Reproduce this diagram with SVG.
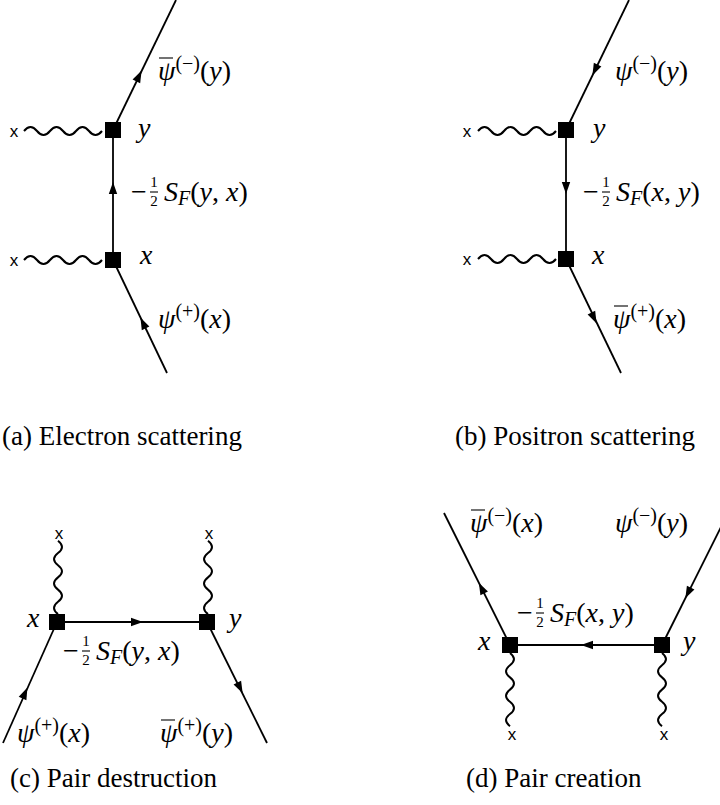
<svg xmlns="http://www.w3.org/2000/svg" xmlns:xlink="http://www.w3.org/1999/xlink" width="720" height="805" viewBox="0 0 720 805">
<style>
.ln{stroke:#000;stroke-width:1.8;fill:none}
.wv{stroke:#000;stroke-width:2;fill:none}
.bar{stroke:#000;stroke-width:1.1}
.t{font-size:28px;fill:#000}
.cap{font-size:27px;fill:#000}
.sup{font-size:20px}
.fr{font-size:15px;text-anchor:middle;fill:#000}
.mk{font-size:17px;text-anchor:middle;fill:#000}
</style>
<defs>
<path id="arr" d="M6,0 L-6,-4.2 L-6,4.2 Z" fill="#000"/>
<rect id="vx" x="-8" y="-8" width="16" height="16" fill="#000"/>
</defs>
<rect width="720" height="805" fill="#fff"/>
<g id="connectors">
<path class="ln" d="M113,130 L176,0"/>
<path class="ln" d="M113,130 V260"/>
<path class="ln" d="M113,260 L167,373"/>
<path class="wv" d="M24,131 q6.5,-8 13,0 t13,0 t13,0 t13,0 t13,0 t13,0"/>
<path class="wv" d="M24,260 q6.5,-8 13,0 t13,0 t13,0 t13,0 t13,0 t13,0"/>
<use xlink:href="#arr" transform="translate(139,76) rotate(-64.1)"/>
<use xlink:href="#arr" transform="translate(113,188) rotate(-90)"/>
<use xlink:href="#arr" transform="translate(143,323) rotate(-115.5)"/>
<path class="ln" d="M566,130 L629,0"/>
<path class="ln" d="M566,130 V259"/>
<path class="ln" d="M566,259 L621,373"/>
<path class="wv" d="M478,131 q6.5,-8 13,0 t13,0 t13,0 t13,0 t13,0 t13,0"/>
<path class="wv" d="M478,259 q6.5,-8 13,0 t13,0 t13,0 t13,0 t13,0 t13,0"/>
<use xlink:href="#arr" transform="translate(595,70) rotate(115.9)"/>
<use xlink:href="#arr" transform="translate(566,188) rotate(90)"/>
<use xlink:href="#arr" transform="translate(594,318) rotate(64)"/>
<path class="ln" d="M57,622 H207"/>
<path class="ln" d="M57,622 L3,743"/>
<path class="ln" d="M207,622 L267,743"/>
<path class="wv" d="M58,614 q-8,-6.1 0,-12.2 t0,-12.2 t0,-12.2 t0,-12.2 t0,-12.2 t0,-12.2"/>
<path class="wv" d="M208,614 q-8,-6.1 0,-12.2 t0,-12.2 t0,-12.2 t0,-12.2 t0,-12.2 t0,-12.2"/>
<use xlink:href="#arr" transform="translate(137,622)"/>
<use xlink:href="#arr" transform="translate(25,693) rotate(-65.9)"/>
<use xlink:href="#arr" transform="translate(240,688) rotate(63.6)"/>
<path class="ln" d="M510,645 H662"/>
<path class="ln" d="M510,645 L444,513"/>
<path class="ln" d="M662,645 L728,513"/>
<path class="wv" d="M510,653 q8,6.1 0,12.2 t0,12.2 t0,12.2 t0,12.2 t0,12.2 t0,12.2"/>
<path class="wv" d="M662,653 q8,6.1 0,12.2 t0,12.2 t0,12.2 t0,12.2 t0,12.2 t0,12.2"/>
<use xlink:href="#arr" transform="translate(587,645) rotate(180)"/>
<use xlink:href="#arr" transform="translate(481.5,588) rotate(-116.6)"/>
<use xlink:href="#arr" transform="translate(688,593) rotate(116.6)"/>
</g>

<g id="markers">
<g id="a-ext-y"><text class="mk" font-family="Liberation Sans" x="14" y="137">x</text></g>
<g id="a-ext-x"><text class="mk" font-family="Liberation Sans" x="14" y="266">x</text></g>
<g id="b-ext-y"><text class="mk" font-family="Liberation Sans" x="467" y="137">x</text></g>
<g id="b-ext-x"><text class="mk" font-family="Liberation Sans" x="467" y="265">x</text></g>
<g id="c-ext-x"><text class="mk" font-family="Liberation Sans" x="59" y="539">x</text></g>
<g id="c-ext-y"><text class="mk" font-family="Liberation Sans" x="209" y="539">x</text></g>
<g id="d-ext-x"><text class="mk" font-family="Liberation Sans" x="512" y="740">x</text></g>
<g id="d-ext-y"><text class="mk" font-family="Liberation Sans" x="664" y="740">x</text></g>
</g>

<g id="nodes">
<g id="a-vertex-y"><use xlink:href="#vx" x="113" y="130"/><text class="t" font-family="serif" font-style="italic" x="138" y="137">y</text></g>
<g id="a-vertex-x"><use xlink:href="#vx" x="113" y="260"/><text class="t" font-family="serif" font-style="italic" x="140" y="264">x</text></g>
<g id="a-out"><line class="bar" x1="159" y1="58" x2="173" y2="58"/><text class="t" font-family="Liberation Serif" x="158" y="80"><tspan font-family="serif" font-style="italic">ψ</tspan><tspan class="sup" font-family="Liberation Serif" dy="-10">(−)</tspan><tspan font-family="Liberation Serif" dy="10">(</tspan><tspan font-family="serif" font-style="italic">y</tspan><tspan font-family="Liberation Serif">)</tspan></text></g>
<g id="a-prop"><text class="t" font-family="Liberation Serif" x="131" y="201">−</text><text class="fr" font-family="Liberation Serif" x="154" y="187">1</text><line class="bar" x1="150" y1="192" x2="158" y2="192"/><text class="fr" font-family="Liberation Serif" x="154" y="206">2</text><text class="t" font-family="Liberation Serif" x="164" y="201"><tspan font-family="serif" font-style="italic">S</tspan><tspan class="sup" font-family="serif" font-style="italic" dy="4">F</tspan><tspan font-family="Liberation Serif" dy="-4">(</tspan><tspan font-family="serif" font-style="italic">y</tspan><tspan font-family="Liberation Serif">, </tspan><tspan font-family="serif" font-style="italic">x</tspan><tspan font-family="Liberation Serif">)</tspan></text></g>
<g id="a-in"><text class="t" font-family="Liberation Serif" x="158" y="328"><tspan font-family="serif" font-style="italic">ψ</tspan><tspan class="sup" font-family="Liberation Serif" dy="-10">(+)</tspan><tspan font-family="Liberation Serif" dy="10">(</tspan><tspan font-family="serif" font-style="italic">x</tspan><tspan font-family="Liberation Serif">)</tspan></text></g>
<g id="a-caption"><text class="cap" font-family="Liberation Serif" x="2" y="445">(a) Electron scattering</text></g>

<g id="b-vertex-y"><use xlink:href="#vx" x="566" y="130"/><text class="t" font-family="serif" font-style="italic" x="593" y="137">y</text></g>
<g id="b-vertex-x"><use xlink:href="#vx" x="566" y="259"/><text class="t" font-family="serif" font-style="italic" x="592" y="264">x</text></g>
<g id="b-in"><text class="t" font-family="Liberation Serif" x="615" y="80"><tspan font-family="serif" font-style="italic">ψ</tspan><tspan class="sup" font-family="Liberation Serif" dy="-10">(−)</tspan><tspan font-family="Liberation Serif" dy="10">(</tspan><tspan font-family="serif" font-style="italic">y</tspan><tspan font-family="Liberation Serif">)</tspan></text></g>
<g id="b-prop"><text class="t" font-family="Liberation Serif" x="583" y="201">−</text><text class="fr" font-family="Liberation Serif" x="606" y="187">1</text><line class="bar" x1="602" y1="192" x2="610" y2="192"/><text class="fr" font-family="Liberation Serif" x="606" y="206">2</text><text class="t" font-family="Liberation Serif" x="616" y="201"><tspan font-family="serif" font-style="italic">S</tspan><tspan class="sup" font-family="serif" font-style="italic" dy="4">F</tspan><tspan font-family="Liberation Serif" dy="-4">(</tspan><tspan font-family="serif" font-style="italic">x</tspan><tspan font-family="Liberation Serif">, </tspan><tspan font-family="serif" font-style="italic">y</tspan><tspan font-family="Liberation Serif">)</tspan></text></g>
<g id="b-out"><line class="bar" x1="614" y1="306" x2="628" y2="306"/><text class="t" font-family="Liberation Serif" x="613" y="328"><tspan font-family="serif" font-style="italic">ψ</tspan><tspan class="sup" font-family="Liberation Serif" dy="-10">(+)</tspan><tspan font-family="Liberation Serif" dy="10">(</tspan><tspan font-family="serif" font-style="italic">x</tspan><tspan font-family="Liberation Serif">)</tspan></text></g>
<g id="b-caption"><text class="cap" font-family="Liberation Serif" x="455" y="445">(b) Positron scattering</text></g>

<g id="c-vertex-x"><use xlink:href="#vx" x="57" y="622"/><text class="t" font-family="serif" font-style="italic" x="27" y="627">x</text></g>
<g id="c-vertex-y"><use xlink:href="#vx" x="207" y="622"/><text class="t" font-family="serif" font-style="italic" x="229" y="627">y</text></g>
<g id="c-prop"><text class="t" font-family="Liberation Serif" x="63" y="660">−</text><text class="fr" font-family="Liberation Serif" x="86" y="646">1</text><line class="bar" x1="82" y1="651" x2="90" y2="651"/><text class="fr" font-family="Liberation Serif" x="86" y="665">2</text><text class="t" font-family="Liberation Serif" x="96" y="660"><tspan font-family="serif" font-style="italic">S</tspan><tspan class="sup" font-family="serif" font-style="italic" dy="4">F</tspan><tspan font-family="Liberation Serif" dy="-4">(</tspan><tspan font-family="serif" font-style="italic">y</tspan><tspan font-family="Liberation Serif">, </tspan><tspan font-family="serif" font-style="italic">x</tspan><tspan font-family="Liberation Serif">)</tspan></text></g>
<g id="c-in-x"><text class="t" font-family="Liberation Serif" x="17" y="742"><tspan font-family="serif" font-style="italic">ψ</tspan><tspan class="sup" font-family="Liberation Serif" dy="-10">(+)</tspan><tspan font-family="Liberation Serif" dy="10">(</tspan><tspan font-family="serif" font-style="italic">x</tspan><tspan font-family="Liberation Serif">)</tspan></text></g>
<g id="c-in-y"><line class="bar" x1="161" y1="720" x2="175" y2="720"/><text class="t" font-family="Liberation Serif" x="160" y="742"><tspan font-family="serif" font-style="italic">ψ</tspan><tspan class="sup" font-family="Liberation Serif" dy="-10">(+)</tspan><tspan font-family="Liberation Serif" dy="10">(</tspan><tspan font-family="serif" font-style="italic">y</tspan><tspan font-family="Liberation Serif">)</tspan></text></g>
<g id="c-caption"><text class="cap" font-family="Liberation Serif" x="10" y="787">(c) Pair destruction</text></g>

<g id="d-vertex-x"><use xlink:href="#vx" x="510" y="645"/><text class="t" font-family="serif" font-style="italic" x="478" y="650">x</text></g>
<g id="d-vertex-y"><use xlink:href="#vx" x="662" y="645"/><text class="t" font-family="serif" font-style="italic" x="683" y="650">y</text></g>
<g id="d-out-x"><line class="bar" x1="471" y1="510" x2="485" y2="510"/><text class="t" font-family="Liberation Serif" x="470" y="532"><tspan font-family="serif" font-style="italic">ψ</tspan><tspan class="sup" font-family="Liberation Serif" dy="-10">(−)</tspan><tspan font-family="Liberation Serif" dy="10">(</tspan><tspan font-family="serif" font-style="italic">x</tspan><tspan font-family="Liberation Serif">)</tspan></text></g>
<g id="d-out-y"><text class="t" font-family="Liberation Serif" x="615" y="532"><tspan font-family="serif" font-style="italic">ψ</tspan><tspan class="sup" font-family="Liberation Serif" dy="-10">(−)</tspan><tspan font-family="Liberation Serif" dy="10">(</tspan><tspan font-family="serif" font-style="italic">y</tspan><tspan font-family="Liberation Serif">)</tspan></text></g>
<g id="d-prop"><text class="t" font-family="Liberation Serif" x="517" y="622">−</text><text class="fr" font-family="Liberation Serif" x="540" y="608">1</text><line class="bar" x1="536" y1="613" x2="544" y2="613"/><text class="fr" font-family="Liberation Serif" x="540" y="627">2</text><text class="t" font-family="Liberation Serif" x="550" y="622"><tspan font-family="serif" font-style="italic">S</tspan><tspan class="sup" font-family="serif" font-style="italic" dy="4">F</tspan><tspan font-family="Liberation Serif" dy="-4">(</tspan><tspan font-family="serif" font-style="italic">x</tspan><tspan font-family="Liberation Serif">, </tspan><tspan font-family="serif" font-style="italic">y</tspan><tspan font-family="Liberation Serif">)</tspan></text></g>
<g id="d-caption"><text class="cap" font-family="Liberation Serif" x="466" y="787">(d) Pair creation</text></g>
</g>
</svg>
